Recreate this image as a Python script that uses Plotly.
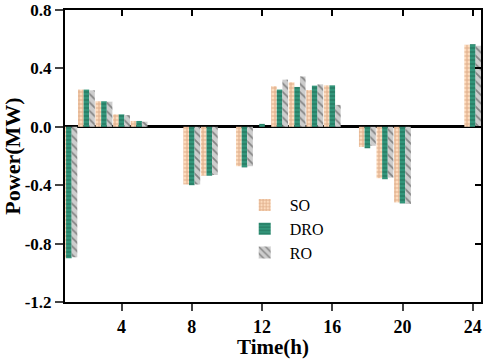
import plotly.graph_objects as go

hours = list(range(1, 25))
so = [-0.90, 0.255, 0.175, 0.085, 0.04, 0, 0, -0.395, -0.335, 0, -0.27, 0,
      0.278, 0.305, 0.252, 0.284, 0, -0.138, -0.352, -0.518, 0, 0, 0, 0.562]
dro = [-0.90, 0.255, 0.175, 0.085, 0.04, 0, 0, -0.40, -0.335, 0, -0.278, 0.02,
       0.255, 0.273, 0.282, 0.284, 0, -0.147, -0.359, -0.525, 0, 0, 0, 0.566]
ro = [-0.893, 0.25, 0.172, 0.08, 0.035, 0, 0, -0.395, -0.33, 0, -0.27, 0,
      0.323, 0.345, 0.291, 0.15, 0, -0.13, -0.348, -0.529, 0, 0, 0, 0.555]
xticks = [4, 8, 12, 16, 20, 24]
yticks = [0.8, 0.4, 0.0, -0.4, -0.8, -1.2]
ytick_text = ["0.8", "0.4", "0.0", "-0.4", "-0.8", "-1.2"]

FONT = "Liberation Serif"
fig = go.Figure()
fig.add_trace(go.Bar(x=hours, y=so, name="SO",
                     marker=dict(color="#FDDCBE", line=dict(width=0),
                                 pattern=dict(shape="+", fgcolor="#C07F55", bgcolor="#FDDCBE",
                                              size=4, solidity=0.45))))
fig.add_trace(go.Bar(x=hours, y=dro, name="DRO",
                     marker=dict(color="#33957A", line=dict(width=0),
                                 pattern=dict(shape="-", fgcolor="#1A674F", bgcolor="#33957A",
                                              size=4, solidity=0.4))))
fig.add_trace(go.Bar(x=hours, y=ro, name="RO",
                     marker=dict(color="#CDCDCD", line=dict(width=0),
                                 pattern=dict(shape="\\", fgcolor="#3C3C3C", bgcolor="#CDCDCD",
                                              size=6, solidity=0.3))))
# dummy trace to activate mirrored inside-tick axes
fig.add_trace(go.Scatter(x=[None], y=[None], xaxis="x2", yaxis="y2",
                         showlegend=False, hoverinfo="skip"))

xr = [0.78, 24.47]
yr = [-1.2001, 0.8001]
fig.update_layout(
    width=484, height=359,
    margin=dict(l=65, r=3, t=10, b=57, autoexpand=False),
    paper_bgcolor="white", plot_bgcolor="white",
    barmode="group", bargap=0.04, bargroupgap=0,
    font=dict(family=FONT, color="black"),
    xaxis=dict(range=xr, tickvals=xticks, ticks="outside", ticklen=7, tickwidth=2,
               showline=True, linewidth=2, linecolor="black", mirror=True,
               showgrid=False, zeroline=False, ticklabeloverflow="allow", automargin=False,
               tickfont=dict(size=18, family=FONT, weight="bold"),
               title=dict(text="<b>Time(h)</b>", font=dict(size=21, family=FONT), standoff=5)),
    yaxis=dict(range=yr, tickvals=yticks, ticktext=ytick_text, ticks="outside", ticklen=8,
               tickwidth=2, showline=True, linewidth=2, linecolor="black", mirror=True,
               showgrid=False, zeroline=True, zerolinewidth=2.5, zerolinecolor="black",
               ticklabeloverflow="allow", automargin=False,
               tickfont=dict(size=17, family=FONT, weight="bold"),
               title=dict(text="<b>Power(MW)</b>", font=dict(size=22, family=FONT), standoff=4)),
    xaxis2=dict(overlaying="x", side="top", range=xr, tickvals=xticks, ticks="inside",
                ticklen=6, tickwidth=2, tickcolor="black", showticklabels=False,
                showline=False, showgrid=False, zeroline=False, automargin=False),
    yaxis2=dict(overlaying="y", side="right", range=yr, tickvals=yticks, ticks="inside",
                ticklen=6, tickwidth=2, tickcolor="black", showticklabels=False,
                showline=False, showgrid=False, zeroline=False, automargin=False),
    legend=dict(x=0.42, y=0.39, xanchor="left", yanchor="top",
                bgcolor="rgba(0,0,0,0)", font=dict(size=16, family=FONT),
                tracegroupgap=0, itemwidth=40),
    showlegend=True,
)
fig.write_html("out.html", config={"displayModeBar": False},
               post_script="document.body.style.margin='0';")
